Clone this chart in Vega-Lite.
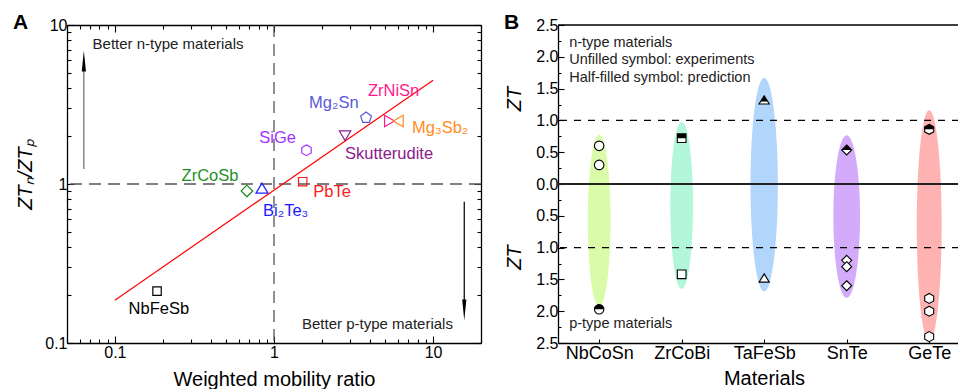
{
"$schema":"https://vega.github.io/schema/vega-lite/v6.json",
"padding":{"left":13,"top":12,"right":0,"bottom":0},
"spacing":22,
"background":"white",
"resolve":{"scale":{"color":"independent","shape":"independent","size":"independent","x":"independent","y":"independent"}},
"datasets":{
 "pointsA":[
  {"material":"NbFeSb","x":0.184,"y":0.212,"lx":0.189,"ly":0.164},
  {"material":"ZrCoSb","x":0.676,"y":0.904,"lx":0.396,"ly":1.123},
  {"material":"Bi₂Te₃","x":0.84,"y":0.94,"lx":1.185,"ly":0.676},
  {"material":"PbTe","x":1.515,"y":1.034,"lx":2.316,"ly":0.891},
  {"material":"SiGe","x":1.6,"y":1.63,"lx":1.055,"ly":1.947},
  {"material":"Skutterudite","x":2.796,"y":2.02,"lx":5.288,"ly":1.551},
  {"material":"Mg₂Sn","x":3.79,"y":2.61,"lx":2.377,"ly":3.255},
  {"material":"ZrNiSn","x":5.31,"y":2.49,"lx":5.645,"ly":3.873},
  {"material":"Mg₃Sb₂","x":6.05,"y":2.49,"lx":11.07,"ly":2.266}
 ],
 "markersB":[
  {"material":"NbCoSn","zt":0.6,"kind":"exp"},
  {"material":"NbCoSn","zt":0.3,"kind":"exp"},
  {"material":"NbCoSn","zt":-1.97,"kind":"pred"},
  {"material":"ZrCoBi","zt":0.72,"kind":"pred"},
  {"material":"ZrCoBi","zt":-1.42,"kind":"exp"},
  {"material":"TaFeSb","zt":1.32,"kind":"pred"},
  {"material":"TaFeSb","zt":-1.48,"kind":"exp"},
  {"material":"SnTe","zt":0.535,"kind":"pred"},
  {"material":"SnTe","zt":-1.2,"kind":"exp"},
  {"material":"SnTe","zt":-1.3,"kind":"exp"},
  {"material":"SnTe","zt":-1.6,"kind":"exp"},
  {"material":"GeTe","zt":0.86,"kind":"pred"},
  {"material":"GeTe","zt":-1.8,"kind":"exp"},
  {"material":"GeTe","zt":-2.0,"kind":"exp"},
  {"material":"GeTe","zt":-2.4,"kind":"exp"}
 ]
},
"config":{
 "font":"Liberation Sans",
 "view":{"stroke":null},
 "axis":{"domainColor":"#000","domainWidth":1.3,"tickColor":"#000","tickWidth":1.1,"labelColor":"#000","titleColor":"#000","labelFontSize":16,"titleFontSize":20,"titleFontWeight":"normal","grid":false,"labelFlush":false,"labelOverlap":false,"labelBound":false},
 "title":{"anchor":"start","frame":"group","fontSize":21,"fontWeight":"bold","color":"#000","dx":-54,"dy":4,"offset":-12}
},
"hconcat":[
 {
  "title":{"text":"A"},
  "width":414,"height":318,
  "resolve":{"axis":{"x":"independent","y":"independent"},"scale":{"shape":"independent"}},
  "layer":[
   {"data":{"values":[{"x":1}]},
    "mark":{"type":"rule","strokeDash":[12,7],"color":"#555","strokeWidth":1.3},
    "encoding":{"x":{"field":"x","type":"quantitative","scale":{"type":"log","domain":[0.05,20],"nice":false},"axis":null}}},
   {"data":{"values":[{"y":1}]},
    "mark":{"type":"rule","strokeDash":[12,7],"color":"#555","strokeWidth":1.3},
    "encoding":{"y":{"field":"y","type":"quantitative","scale":{"type":"log","domain":[0.1,10],"nice":false},"axis":null}}},
   {"data":{"values":[{"x":0.1,"y":0.186},{"x":10,"y":4.5}]},
    "mark":{"type":"line","color":"#ff0000","strokeWidth":1.2},
    "encoding":{
     "x":{"field":"x","type":"quantitative","scale":{"type":"log","domain":[0.05,20],"nice":false},
      "axis":{"orient":"top","values":[0.05,0.06,0.07,0.08,0.09,0.1,0.2,0.3,0.4,0.5,0.6,0.7,0.8,0.9,1,2,3,4,5,6,7,8,9,10,20],"labels":false,"title":null,
       "tickSize":{"condition":{"test":"datum.value==0.1||datum.value==1||datum.value==10","value":-7},"value":-4}}},
     "y":{"field":"y","type":"quantitative","scale":{"type":"log","domain":[0.1,10],"nice":false},
      "axis":{"orient":"right","values":[0.1,0.2,0.3,0.4,0.5,0.6,0.7,0.8,0.9,1,2,3,4,5,6,7,8,9,10],"labels":false,"title":null,
       "tickSize":{"condition":{"test":"datum.value==0.1||datum.value==1||datum.value==10","value":-7},"value":-4}}}}},
   {"data":{"values":[{"x":0.0638,"y":1.243,"y2":5.77},{"x":15.7,"y":0.774,"y2":0.171}]},
    "mark":{"type":"rule","strokeWidth":1.3},
    "encoding":{
     "x":{"field":"x","type":"quantitative","scale":{"type":"log","domain":[0.05,20],"nice":false},"axis":null},
     "y":{"field":"y","type":"quantitative","scale":{"type":"log","domain":[0.1,10],"nice":false},"axis":null},
     "y2":{"field":"y2"},
     "color":{"condition":{"test":"datum.x<1","value":"#777"},"value":"#111"}}},
   {"data":{"values":[{"x":0.0638,"y":5.94,"dir":"up"},{"x":15.7,"y":0.161,"dir":"down"}]},
    "mark":{"type":"point","filled":true,"color":"#000","size":441,"opacity":1,"strokeWidth":0},
    "encoding":{
     "x":{"field":"x","type":"quantitative","scale":{"type":"log","domain":[0.05,20],"nice":false},"axis":null},
     "y":{"field":"y","type":"quantitative","scale":{"type":"log","domain":[0.1,10],"nice":false},"axis":null},
     "shape":{"field":"dir","type":"nominal","scale":{"domain":["up","down"],"range":["M0,-1L0.2,1L-0.2,1Z","M0,1L0.2,-1L-0.2,-1Z"]},"legend":null}}},
   {"data":{"name":"pointsA"},
    "mark":{"type":"point","filled":false,"size":144,"strokeWidth":1.2,"opacity":1},
    "encoding":{
     "x":{"field":"x","type":"quantitative","scale":{"type":"log","domain":[0.05,20],"nice":false},
      "axis":{"orient":"bottom","values":[0.05,0.06,0.07,0.08,0.09,0.1,0.2,0.3,0.4,0.5,0.6,0.7,0.8,0.9,1,2,3,4,5,6,7,8,9,10,20],
       "labelExpr":"datum.value==0.1?'0.1':datum.value==1?'1':datum.value==10?'10':''",
       "tickSize":{"condition":{"test":"datum.value==0.1||datum.value==1||datum.value==10","value":-7},"value":-4},
       "labelPadding":8,"title":"Weighted mobility ratio","titlePadding":6}},
     "y":{"field":"y","type":"quantitative","scale":{"type":"log","domain":[0.1,10],"nice":false},
      "axis":{"orient":"left","values":[0.1,0.2,0.3,0.4,0.5,0.6,0.7,0.8,0.9,1,2,3,4,5,6,7,8,9,10],
       "labelExpr":"datum.value==0.1?'0.1':datum.value==1?'1':datum.value==10?'10':''",
       "tickSize":{"condition":{"test":"datum.value==0.1||datum.value==1||datum.value==10","value":-7},"value":-4},
       "labelPadding":7,"title":"ZTₙ/ZTₚ","titleFontStyle":"italic","titleX":-42,"titleY":149,"titleBaseline":"middle"}},
     "shape":{"field":"material","type":"nominal","legend":null,
      "scale":{"domain":["NbFeSb","ZrCoSb","Bi₂Te₃","PbTe","SiGe","Skutterudite","Mg₂Sn","ZrNiSn","Mg₃Sb₂"],
       "range":["M-0.7,-0.7H0.7V0.7H-0.7Z","M0,-0.97L0.97,0L0,0.97L-0.97,0Z","M0,-0.85L1,0.8L-1,0.8Z","M-0.7,-0.7H0.7V0.7H-0.7Z","M0,-0.9L0.78,-0.45L0.78,0.45L0,0.9L-0.78,0.45L-0.78,-0.45Z","M-0.95,-0.75L0.95,-0.75L0,0.85Z","M0,-0.95L0.9,-0.29L0.56,0.77L-0.56,0.77L-0.9,-0.29Z","M-0.8,-0.95L0.85,0L-0.8,0.95Z","M0.8,-0.95L-0.85,0L0.8,0.95Z"]}},
     "color":{"field":"material","type":"nominal","legend":null,
      "scale":{"domain":["NbFeSb","ZrCoSb","Bi₂Te₃","PbTe","SiGe","Skutterudite","Mg₂Sn","ZrNiSn","Mg₃Sb₂"],
       "range":["#000000","#1f8f1f","#1a1aff","#ff1a1a","#a033ff","#8b1a8b","#5a5ad8","#ff1a8c","#ff8c1a"]}}}},
   {"data":{"name":"pointsA"},
    "mark":{"type":"text","fontSize":16.5,"align":"center","baseline":"middle"},
    "encoding":{
     "x":{"field":"lx","type":"quantitative","scale":{"type":"log","domain":[0.05,20],"nice":false},"axis":null},
     "y":{"field":"ly","type":"quantitative","scale":{"type":"log","domain":[0.1,10],"nice":false},"axis":null},
     "text":{"field":"material"},
     "color":{"field":"material","type":"nominal","legend":null,
      "scale":{"domain":["NbFeSb","ZrCoSb","Bi₂Te₃","PbTe","SiGe","Skutterudite","Mg₂Sn","ZrNiSn","Mg₃Sb₂"],
       "range":["#000000","#1f8f1f","#1a1aff","#ff1a1a","#a033ff","#8b1a8b","#5a5ad8","#ff1a8c","#ff8c1a"]}}}},
   {"data":{"values":[{"x":0.0724,"y":7.63,"note":"Better n-type materials"},{"x":1.5,"y":0.131,"note":"Better p-type materials"}]},
    "mark":{"type":"text","fontSize":15,"align":"left","baseline":"middle","color":"#222"},
    "encoding":{
     "x":{"field":"x","type":"quantitative","scale":{"type":"log","domain":[0.05,20],"nice":false},"axis":null},
     "y":{"field":"y","type":"quantitative","scale":{"type":"log","domain":[0.1,10],"nice":false},"axis":null},
     "text":{"field":"note"}}}
  ]
 },
 {
  "title":{"text":"B"},
  "width":401,"height":318,
  "resolve":{"axis":{"x":"independent","y":"independent"},"scale":{"shape":"independent","size":"independent"}},
  "layer":[
   {"data":{"values":[
     {"material":"NbCoSn","zt":0.78},{"material":"NbCoSn","zt":-1.93},
     {"material":"ZrCoBi","zt":0.98},{"material":"ZrCoBi","zt":-1.65},
     {"material":"TaFeSb","zt":1.67},{"material":"TaFeSb","zt":-1.69},
     {"material":"SnTe","zt":0.765},{"material":"SnTe","zt":-1.79},
     {"material":"GeTe","zt":1.16},{"material":"GeTe","zt":-2.47}]},
    "mark":{"type":"point","filled":true,"opacity":1,"strokeWidth":0},
    "encoding":{
     "x":{"field":"material","type":"nominal","scale":{"type":"point","domain":["NbCoSn","ZrCoBi","TaFeSb","SnTe","GeTe"],"padding":0.43,"align":0.58},"axis":null},
     "y":{"aggregate":"mean","field":"zt","type":"quantitative","scale":{"domain":[-2.5,2.5],"nice":false,"zero":false},
      "axis":{"orient":"left","values":[-2.5,-2.25,-2,-1.75,-1.5,-1.25,-1,-0.75,-0.5,-0.25,0,0.25,0.5,0.75,1,1.25,1.5,1.75,2,2.25,2.5],
       "labelExpr":"abs(datum.value*2-round(datum.value*2))<0.001?format(abs(datum.value),'.1f'):''",
       "tickSize":{"condition":{"test":"abs(datum.value*2-round(datum.value*2))<0.001","value":-6},"value":-3},
       "labelPadding":6,"title":"ZT","titleFontStyle":"italic","titleX":-43.5,"titleY":73.5,"titleBaseline":"middle"}},
     "size":{"aggregate":"stdevp","field":"zt","type":"quantitative","scale":{"type":"pow","exponent":2,"domain":[0,2],"range":[0,64719]},"legend":null},
     "shape":{"field":"material","type":"nominal","legend":null,
      "scale":{"domain":["NbCoSn","ZrCoBi","TaFeSb","SnTe","GeTe"],
       "range":["M0,-1C0.0729,-1,0.132,-0.5523,0.132,0C0.132,0.5523,0.0729,1,0,1C-0.0729,1,-0.132,0.5523,-0.132,0C-0.132,-0.5523,-0.0729,-1,0,-1Z",
        "M0,-1C0.0751,-1,0.136,-0.5523,0.136,0C0.136,0.5523,0.0751,1,0,1C-0.0751,1,-0.136,0.5523,-0.136,0C-0.136,-0.5523,-0.0751,-1,0,-1Z",
        "M0,-1C0.0707,-1,0.128,-0.5523,0.128,0C0.128,0.5523,0.0707,1,0,1C-0.0707,1,-0.128,0.5523,-0.128,0C-0.128,-0.5523,-0.0707,-1,0,-1Z",
        "M0,-1C0.0906,-1,0.164,-0.5523,0.164,0C0.164,0.5523,0.0906,1,0,1C-0.0906,1,-0.164,0.5523,-0.164,0C-0.164,-0.5523,-0.0906,-1,0,-1Z",
        "M0,-1C0.0596,-1,0.108,-0.5523,0.108,0C0.108,0.5523,0.0596,1,0,1C-0.0596,1,-0.108,0.5523,-0.108,0C-0.108,-0.5523,-0.0596,-1,0,-1Z"]}},
     "color":{"field":"material","type":"nominal","legend":null,
      "scale":{"domain":["NbCoSn","ZrCoBi","TaFeSb","SnTe","GeTe"],"range":["#d9fbaa","#b2f7da","#b2d6fb","#d3abfa","#ffb2b2"]}}}},
   {"data":{"values":[{"zt":1},{"zt":-1}]},
    "mark":{"type":"rule","strokeDash":[7,7],"color":"#000","strokeWidth":1.2},
    "encoding":{"y":{"field":"zt","type":"quantitative","scale":{"domain":[-2.5,2.5],"nice":false,"zero":false},"axis":null}}},
   {"data":{"values":[{"zt":2.5}]},
    "mark":{"type":"rule","color":"#000","strokeWidth":1.3},
    "encoding":{"y":{"field":"zt","type":"quantitative","scale":{"domain":[-2.5,2.5],"nice":false,"zero":false},"axis":null}}},
   {"data":{"values":[{"zt":0}]},
    "mark":{"type":"rule","color":"#222","strokeWidth":2},
    "encoding":{"y":{"field":"zt","type":"quantitative","scale":{"domain":[-2.5,2.5],"nice":false,"zero":false},
     "axis":{"orient":"left","labels":false,"ticks":false,"domain":false,"title":"ZT","titleFontStyle":"italic","titleX":-43.5,"titleY":232,"titleBaseline":"middle"}}}},
   {"data":{"name":"markersB"},
    "mark":{"type":"point","filled":true,"fill":"#fff","stroke":"#000","strokeWidth":1.1,"size":100,"opacity":1},
    "encoding":{
     "x":{"field":"material","type":"nominal","scale":{"type":"point","domain":["NbCoSn","ZrCoBi","TaFeSb","SnTe","GeTe"],"padding":0.43,"align":0.58},
      "axis":{"orient":"bottom","labelFontSize":18,"labelAngle":0,"labelPadding":5,"tickSize":-4,"title":"Materials","titleX":206,"titlePadding":6}},
     "y":{"field":"zt","type":"quantitative","scale":{"domain":[-2.5,2.5],"nice":false,"zero":false},"axis":null},
     "shape":{"field":"material","type":"nominal","legend":null,
      "scale":{"domain":["NbCoSn","ZrCoBi","TaFeSb","SnTe","GeTe"],
       "range":["M0,-0.95C0.525,-0.95,0.95,-0.525,0.95,0C0.95,0.525,0.525,0.95,0,0.95C-0.525,0.95,-0.95,0.525,-0.95,0C-0.95,-0.525,-0.525,-0.95,0,-0.95Z",
        "M-0.87,-0.87H0.87V0.87H-0.87Z",
        "M0,-0.85L1.03,0.8L-1.03,0.8Z",
        "M0,-1L1,0L0,1L-1,0Z",
        "M0,-1L0.9,-0.5L0.9,0.5L0,1L-0.9,0.5L-0.9,-0.5Z"]}}}},
   {"data":{"name":"markersB"},
    "transform":[{"filter":"datum.kind=='pred'"}],
    "mark":{"type":"point","filled":true,"color":"#000","strokeWidth":0,"size":100,"opacity":1},
    "encoding":{
     "x":{"field":"material","type":"nominal","scale":{"type":"point","domain":["NbCoSn","ZrCoBi","TaFeSb","SnTe","GeTe"],"padding":0.43,"align":0.58},"axis":null},
     "y":{"field":"zt","type":"quantitative","scale":{"domain":[-2.5,2.5],"nice":false,"zero":false},"axis":null},
     "shape":{"field":"material","type":"nominal","legend":null,
      "scale":{"domain":["NbCoSn","ZrCoBi","TaFeSb","SnTe","GeTe"],
       "range":["M-0.95,0C-0.95,-0.525,-0.525,-0.95,0,-0.95C0.525,-0.95,0.95,-0.525,0.95,0Z",
        "M-0.87,-0.87H0.87V0H-0.87Z",
        "M0,-0.85L0.718,0.3L-0.718,0.3Z",
        "M0,-1L1,0L-1,0Z",
        "M0,-1L0.9,-0.5L0.9,0L-0.9,0L-0.9,-0.5Z"]}}}},
   {"data":{"values":[{"zt":2.22,"note":"n-type materials"},{"zt":1.945,"note":"Unfilled symbol: experiments"},{"zt":1.662,"note":"Half-filled symbol: prediction"},{"zt":-2.206,"note":"p-type materials"}]},
    "mark":{"type":"text","fontSize":14.5,"align":"left","baseline":"middle","color":"#222","dx":-30},
    "encoding":{
     "x":{"datum":"NbCoSn","type":"nominal","scale":{"type":"point","domain":["NbCoSn","ZrCoBi","TaFeSb","SnTe","GeTe"],"padding":0.43,"align":0.58},"axis":null},
     "y":{"field":"zt","type":"quantitative","scale":{"domain":[-2.5,2.5],"nice":false,"zero":false},"axis":null},
     "text":{"field":"note"}}}
  ]
 }
]
}
